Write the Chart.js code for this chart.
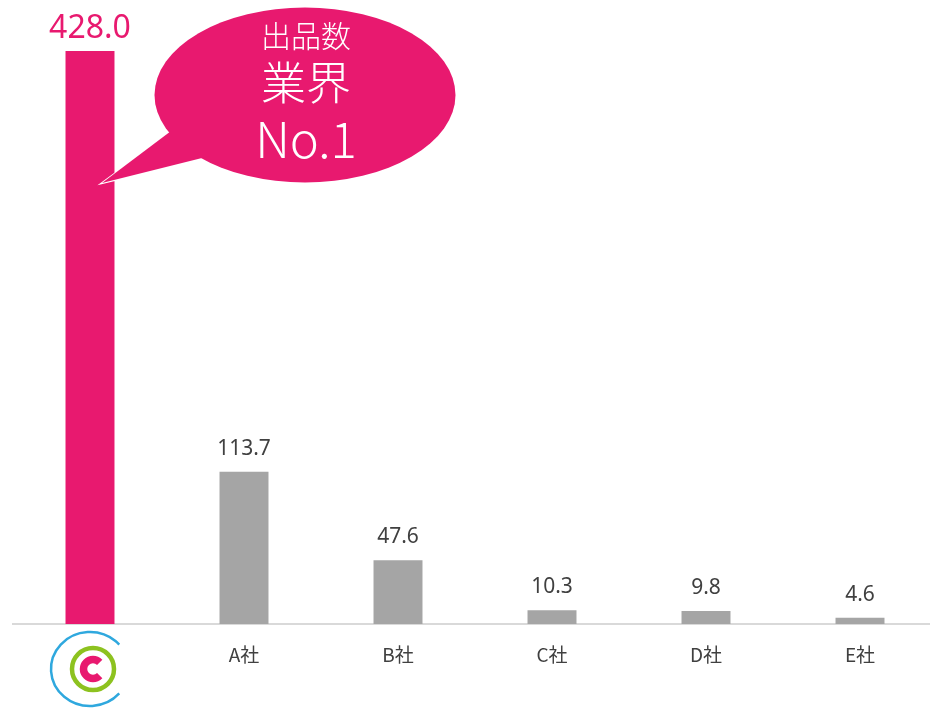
<!DOCTYPE html>
<html>
<head>
<meta charset="utf-8">
<script src="https://cdn.jsdelivr.net/npm/chart.js@4.4.0/dist/chart.umd.min.js"></script>
<style>
  html, body { margin: 0; padding: 0; background: #fff; overflow: hidden; }
  #chart { position: absolute; left: 0; top: 0; }
</style>
</head>
<body>
<canvas id="chart" width="937" height="709"></canvas>
<script>
// データ（出品数）
const categories = ["", "A社", "B社", "C社", "D社", "E社"];   // 先頭は自社ロゴ
const values = [428.0, 113.7, 47.6, 10.3, 9.8, 4.6];
const barColors = ["#E8196F", "#A5A5A5", "#A5A5A5", "#A5A5A5", "#A5A5A5", "#A5A5A5"];
const bubbleLines = ["出品数", "業界", "No.1"];

const PINK = "#E8196F";
const TEXT = "#404040";

// 値ラベル
const valueLabels = {
    id: "valueLabels",
    afterDatasetsDraw(chart) {
        const ctx = chart.ctx;
        const meta = chart.getDatasetMeta(0);
        ctx.save();
        ctx.textAlign = "center";
        ctx.textBaseline = "alphabetic";
        meta.data.forEach(function(bar, i) {
            if (i === 0) {
                ctx.fillStyle = PINK;
                ctx.font = "32px 'Noto Sans', sans-serif";
                ctx.fillText(values[i].toFixed(1), bar.x, bar.y - 13);
            } else {
                ctx.fillStyle = TEXT;
                ctx.font = "21px 'Noto Sans', sans-serif";
                ctx.fillText(values[i].toFixed(1), bar.x, bar.y - 17);
            }
        });
        ctx.restore();
    }
};

// ロゴ + 吹き出し
const extras = {
    id: "extras",
    afterDraw(chart) {
        const ctx = chart.ctx;
        const xs = chart.scales.x;
        const cx = xs.getPixelForValue(0) - 1;
        const cy = 669;

        ctx.save();
        // ロゴ
        ctx.lineCap = "butt";
        ctx.strokeStyle = "#2FA8DE";
        ctx.lineWidth = 2.5;
        ctx.beginPath();
        ctx.ellipse(cx + 1, cy, 39, 37, 0, Math.PI * 0.23, Math.PI * 1.77);
        ctx.stroke();

        ctx.strokeStyle = "#8DC21F";
        ctx.lineWidth = 4.5;
        ctx.beginPath();
        ctx.arc(cx + 4, cy, 21, 0, Math.PI * 2);
        ctx.stroke();

        ctx.strokeStyle = PINK;
        ctx.lineWidth = 7.5;
        ctx.beginPath();
        ctx.arc(cx + 4, cy, 9.5, Math.PI * 0.25, Math.PI * 1.75);
        ctx.stroke();

        // 吹き出し
        ctx.fillStyle = PINK;
        ctx.strokeStyle = "#fff";
        ctx.lineWidth = 2;
        ctx.beginPath();
        ctx.moveTo(170, 133);
        ctx.lineTo(102, 183);
        ctx.lineTo(202, 159);
        ctx.stroke();
        ctx.beginPath();
        ctx.ellipse(305, 95, 150.5, 87.5, 0, 0, Math.PI * 2);
        ctx.fill();
        ctx.beginPath();
        ctx.moveTo(175, 128);
        ctx.lineTo(102, 183);
        ctx.lineTo(210, 156);
        ctx.closePath();
        ctx.fill();

        ctx.fillStyle = "#fff";
        ctx.textAlign = "center";
        ctx.textBaseline = "alphabetic";
        ctx.font = "300 30px 'Noto Sans CJK JP', sans-serif";
        ctx.fillText(bubbleLines[0], 306, 47);
        ctx.font = "300 45px 'Noto Sans CJK JP', sans-serif";
        ctx.fillText(bubbleLines[1], 306, 100);
        ctx.font = "300 49px 'Noto Sans CJK JP', sans-serif";
        ctx.fillText(bubbleLines[2], 306, 158);
        ctx.restore();
    }
};

const ctx = document.getElementById("chart").getContext("2d");
window.rankChart = new Chart(ctx, {
    type: "bar",
    data: {
        labels: categories,
        datasets: [{
            data: values,
            backgroundColor: barColors,
            borderWidth: 0,
            barPercentage: 0.318,
            categoryPercentage: 1
        }]
    },
    options: {
        responsive: false,
        animation: false,
        devicePixelRatio: 1,
        layout: { padding: { left: 13, right: 0, top: 0, bottom: 0 } },
        plugins: {
            legend: { display: false },
            tooltip: { enabled: false }
        },
        scales: {
            x: {
                grid: { display: false, drawTicks: false },
                border: { display: true, color: "#D9D9D9", width: 2 },
                ticks: {
                    color: TEXT,
                    font: { family: "'Noto Sans CJK JP', sans-serif", size: 19 },
                    padding: 19,
                    maxRotation: 0
                },
                afterFit: function(scale) { scale.height = 85; }
            },
            y: {
                display: false,
                min: 0,
                max: 466
            }
        }
    },
    plugins: [valueLabels, extras]
});
</script>
</body>
</html>
